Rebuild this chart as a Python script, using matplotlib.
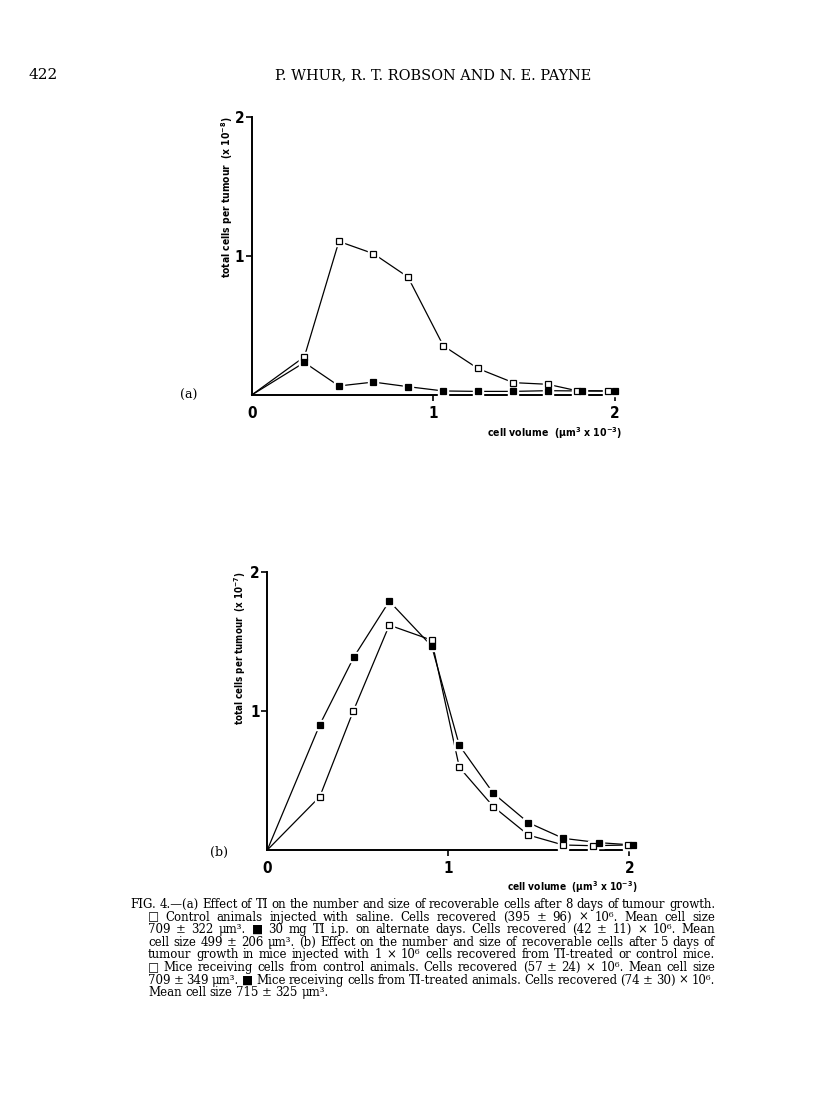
"""
Fig. 4 (Whur, Robson & Payne, p. 422): cell number vs cell volume, panels (a) and (b).
"""

import matplotlib
matplotlib.use('Agg')
import matplotlib.pyplot as plt
from matplotlib import font_manager
from matplotlib.font_manager import FontProperties

W, H = 816, 1119

# ---- data -------------------------------------------------------------
# (a) 8 days of tumour growth
vol_a_ctrl = [0, 0.29, 0.48, 0.67, 0.86, 1.055, 1.245, 1.44, 1.63, 1.79, 1.96]
cells_a_ctrl = [0, 0.275, 1.105, 1.017, 0.849, 0.354, 0.191, 0.089, 0.077, 0.031, 0.029]
vol_a_ti = [0, 0.29, 0.48, 0.67, 0.86, 1.055, 1.245, 1.44, 1.63, 1.82, 2.0]
cells_a_ti = [0, 0.234, 0.065, 0.093, 0.060, 0.029, 0.026, 0.026, 0.031, 0.029, 0.029]

# (b) 5 days of growth after transfer
vol_b_ctrl = [0, 0.29, 0.475, 0.674, 0.908, 1.061, 1.249, 1.442, 1.635, 1.797, 1.994]
cells_b_ctrl = [0, 0.384, 1.0, 1.619, 1.511, 0.595, 0.312, 0.108, 0.036, 0.031, 0.036]
vol_b_ti = [0, 0.29, 0.479, 0.674, 0.908, 1.061, 1.249, 1.442, 1.635, 1.831, 2.022]
cells_b_ti = [0, 0.902, 1.391, 1.791, 1.468, 0.753, 0.408, 0.197, 0.084, 0.053, 0.036]

X_TICKS = [0, 1, 2]
Y_TICKS = [1, 2]

HEADER_PAGE = '422'
HEADER_AUTHORS = 'P. WHUR, R. T. ROBSON AND N. E. PAYNE'
XLABEL = 'cell volume  (μm$^{3}$ x 10$^{-3}$)'
YLABEL_A = 'total cells per tumour  (x 10$^{-8}$)'
YLABEL_B = 'total cells per tumour  (x 10$^{-7}$)'

CAPTION = [
    'FIG. 4.—(a) Effect of TI on the number and size of recoverable cells after 8 days of tumour growth.',
    '□ Control animals injected with saline.  Cells recovered (395 ± 96) × 10⁶.  Mean cell size',
    '709 ± 322 μm³.  ■ 30 mg TI i.p. on alternate days.  Cells recovered (42 ± 11) × 10⁶.  Mean',
    'cell size 499 ± 206 μm³.  (b) Effect on the number and size of recoverable cells after 5 days of',
    'tumour growth in mice injected with 1 × 10⁶ cells recovered from TI-treated or control mice.',
    '□ Mice receiving cells from control animals.  Cells recovered (57 ± 24) × 10⁶.  Mean cell size',
    '709 ± 349 μm³.  ■ Mice receiving cells from TI-treated animals.  Cells recovered (74 ± 30) × 10⁶.',
    'Mean cell size 715 ± 325 μm³.',
]


# ---- fonts: look for a condensed bold sans for the figure lettering -------
def pick_narrow():
    cands = []
    for f in font_manager.fontManager.ttflist:
        st = str(f.stretch).lower()
        narrow = ('condensed' in st or 'narrow' in f.name.lower()
                  or 'condensed' in f.name.lower()
                  or (st.isdigit() and int(st) < 500))
        bold = f.weight in ('bold', 700, 600, 'semibold', 'demibold') or str(f.weight) in ('700', '600')
        if narrow and bold and 'mono' not in f.name.lower() and 'serif' not in f.name.lower():
            cands.append(f)
    if cands:
        cands.sort(key=lambda f: ('Sans' not in f.name, f.name))
        return FontProperties(fname=cands[0].fname), True
    return FontProperties(family=['Roboto', 'DejaVu Sans'], weight='bold'), False


NARROW_FP, HAVE_NARROW = pick_narrow()
SERIF = ['DejaVu Serif', 'DejaVu Sans']

plt.rcParams.update({
    'mathtext.default': 'regular',
    'figure.facecolor': 'white',
})

fig = plt.figure(figsize=(W / 100, H / 100), dpi=100)
renderer = fig.canvas.get_renderer()


def fx(x):
    return x / W


def fy(y):
    return 1 - y / H


def narrow(size):
    fp = NARROW_FP.copy()
    fp.set_size(size)
    return fp


def fit_text(x, y, s, length, rotated=False, size0=10, fp=None, **kw):
    """Place text and scale its size so it spans `length` pixels."""
    if fp is not None:
        t = fig.text(fx(x), fy(y), s, fontproperties=narrow(size0), **kw)
    else:
        t = fig.text(fx(x), fy(y), s, fontsize=size0, **kw)
    bb = t.get_window_extent(renderer)
    cur = bb.height if rotated else bb.width
    t.set_fontsize(size0 * length / cur)
    return t


def draw_panel(rect, xmax, curves):
    ax = fig.add_axes(rect)
    for xs, ys, face in curves:
        ax.plot(xs, ys, color='black', lw=0.9, zorder=2, clip_on=False)
        ax.plot(xs[1:], ys[1:], ls='none', marker='s', ms=7.5, mfc='white',
                mec='white', zorder=3, clip_on=False)
    for xs, ys, face in curves:
        ax.plot(xs[1:], ys[1:], ls='none', marker='s', ms=5, mfc=face,
                mec='black', mew=0.9, zorder=4, clip_on=False)
    ax.set_xlim(0, xmax)
    ax.set_ylim(0, 2)
    ax.set_xticks(X_TICKS)
    ax.set_yticks(Y_TICKS)
    ax.xaxis.get_major_ticks()[0].tick1line.set_visible(False)
    for s in ['top', 'right']:
        ax.spines[s].set_visible(False)
    for s in ['left', 'bottom']:
        ax.spines[s].set_linewidth(1.4)
    ax.tick_params(direction='out', length=4, width=1.2, pad=4)
    ax.tick_params(axis='y', pad=1.5)
    for lab in ax.get_xticklabels() + ax.get_yticklabels():
        lab.set_fontproperties(narrow(11 if HAVE_NARROW else 10))
    ax.set_facecolor('none')
    return ax


# =========================================================
# header
# =========================================================
fig.text(fx(28), fy(75), HEADER_PAGE, fontsize=11, family=SERIF, va='center', ha='left')
fit_text(275, 75, HEADER_AUTHORS, 315, family=SERIF, va='center', ha='left')

# =========================================================
# panel (a)
# =========================================================
ux_a, uy_a = 181.65, 139.0
draw_panel([fx(251.7), fy(395), 2.01 * ux_a / W, 2 * uy_a / H], 2.01,
           [(vol_a_ctrl, cells_a_ctrl, 'white'), (vol_a_ti, cells_a_ti, 'black')])
fit_text(227, 278, YLABEL_A, 162, rotated=True, fp=True,
         rotation=90, ha='center', va='bottom')
fit_text(622, 433, XLABEL, 134, fp=True, ha='right', va='center')
fig.text(fx(180), fy(395), '(a)', fontsize=9, family=SERIF, va='center', ha='left')

# =========================================================
# panel (b)
# =========================================================
ux_b, uy_b = 181.0, 138.9
draw_panel([fx(267.3), fy(850), 2.025 * ux_b / W, 2 * uy_b / H], 2.025,
           [(vol_b_ctrl, cells_b_ctrl, 'white'), (vol_b_ti, cells_b_ti, 'black')])
fit_text(240, 725, YLABEL_B, 153, rotated=True, fp=True,
         rotation=90, ha='center', va='bottom')
fit_text(637, 887, XLABEL, 130, fp=True, ha='right', va='center')
fig.text(fx(210), fy(852), '(b)', fontsize=9, family=SERIF, va='center', ha='left')

# =========================================================
# caption, justified by hand
# =========================================================
cap_x0 = [130] + [148] * (len(CAPTION) - 1)
cap_x1 = 715
cap_y0, cap_dy = 908, 12.6
justified = [True] * (len(CAPTION) - 1) + [False]
MIN_SPACE = 0.25  # em

size0 = 10
fs_cands = []
for s, x0, j in zip(CAPTION, cap_x0, justified):
    if not j:
        continue
    words = s.split()
    wsum = 0
    for w in words:
        t = fig.text(0, 0, w, fontsize=size0, family=SERIF)
        wsum += t.get_window_extent(renderer).width
        t.remove()
    fs_cands.append((cap_x1 - x0) / (wsum / size0 + (len(words) - 1) * MIN_SPACE * 100 / 72))
cap_fs = min(fs_cands)
space_px = 0.3 * cap_fs * 100 / 72

for i, (s, x0, j) in enumerate(zip(CAPTION, cap_x0, justified)):
    y = cap_y0 + i * cap_dy
    words = s.split()
    texts = [fig.text(0, 0, w, fontsize=cap_fs, family=SERIF, va='baseline') for w in words]
    widths = [t.get_window_extent(renderer).width for t in texts]
    if j and len(words) > 1:
        gap = (cap_x1 - x0 - sum(widths)) / (len(words) - 1)
    else:
        gap = space_px
    x = x0
    for t, w in zip(texts, widths):
        t.set_position((fx(x), fy(y)))
        x += w + gap

fig.savefig('out.png', dpi=100)
